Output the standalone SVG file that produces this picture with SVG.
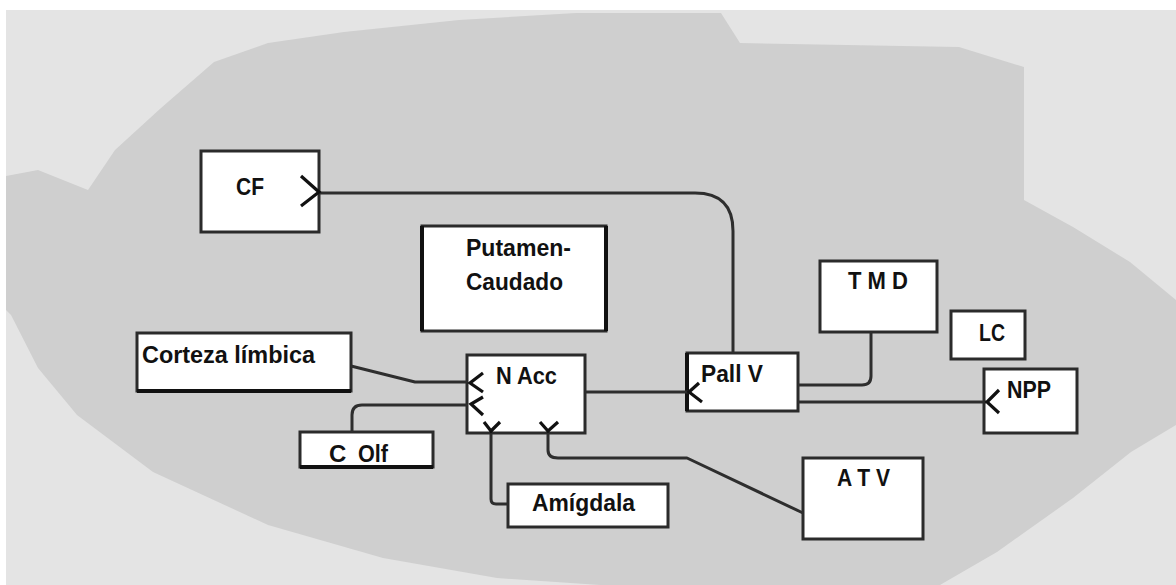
<svg xmlns="http://www.w3.org/2000/svg" width="1176" height="585" viewBox="0 0 1176 585">
<defs>
<style>
.box{fill:#ffffff;stroke:#2b2b2b;stroke-width:3}
.edge{fill:none;stroke:#2e2e2e;stroke-width:3;stroke-linejoin:round}
.chev{fill:none;stroke:#111;stroke-width:3.2;stroke-linecap:butt;stroke-linejoin:miter}
.thick{stroke:#111;stroke-width:4}
.lbl{font-family:"Liberation Sans",Arial,sans-serif;font-weight:bold;font-size:24px;fill:#111}
</style>
</defs>
<rect x="0" y="0" width="1176" height="585" fill="#ffffff"/>
<rect x="6" y="10" width="1170" height="575" fill="#e4e4e4"/>
<path id="brain" fill="#cfcfcf" d="M6,176 L38,170 L88,190 L115,150 L161,108 L214,62 L268,43 L344,32 L459,20 L576,13 L721,13 L740,43 L959,47 L1024,67 L1024,200 L1073,227 L1130,262 L1176,300 L1176,425 L1131,452 L1073,498 L997,552 L940,585 L600,585 L497,578 L383,558 L268,525 L153,472 L77,415 L38,368 L11,315 L6,310 Z"/>
<g id="node-cf"><rect class="box" x="201" y="151" width="118" height="81"/><text class="lbl" x="236" y="195" textLength="28" lengthAdjust="spacingAndGlyphs">CF</text></g>
<g id="node-putamen"><rect class="box" x="422" y="226" width="184" height="105"/><line class="thick" x1="606" y1="226" x2="606" y2="331"/><line class="thick" x1="422" y1="226" x2="422" y2="331"/><text class="lbl" x="466" y="256" textLength="105" lengthAdjust="spacingAndGlyphs">Putamen-</text><text class="lbl" x="466" y="290" textLength="97" lengthAdjust="spacingAndGlyphs">Caudado</text></g>
<g id="node-corteza"><rect class="box" x="137" y="333" width="214" height="58"/><line class="thick" x1="137" y1="391" x2="351" y2="391"/><text class="lbl" x="142" y="363" textLength="173" lengthAdjust="spacingAndGlyphs">Corteza límbica</text></g>
<g id="node-nacc"><rect class="box" x="467" y="355" width="118" height="78"/><text class="lbl" x="496" y="384" textLength="61" lengthAdjust="spacingAndGlyphs">N Acc</text></g>
<g id="node-pallv"><rect class="box" x="687" y="353" width="111" height="58"/><line class="thick" x1="687" y1="353" x2="687" y2="411"/><text class="lbl" x="701" y="382" textLength="62" lengthAdjust="spacingAndGlyphs">Pall V</text></g>
<g id="node-tmd"><rect class="box" x="820" y="261" width="117" height="71"/><text class="lbl" x="848" y="289" textLength="60" lengthAdjust="spacingAndGlyphs">T M D</text></g>
<g id="node-lc"><rect class="box" x="951" y="311" width="74" height="48"/><text class="lbl" x="979" y="341" textLength="26" lengthAdjust="spacingAndGlyphs">LC</text></g>
<g id="node-npp"><rect class="box" x="984" y="369" width="93" height="64"/><text class="lbl" x="1007" y="398" textLength="44" lengthAdjust="spacingAndGlyphs">NPP</text></g>
<g id="node-atv"><rect class="box" x="803" y="458" width="120" height="81"/><text class="lbl" x="837" y="486" textLength="53" lengthAdjust="spacingAndGlyphs">A T V</text></g>
<g id="node-amigdala"><rect class="box" x="508" y="484" width="160" height="43"/><text class="lbl" x="532" y="511" textLength="103" lengthAdjust="spacingAndGlyphs">Amígdala</text></g>
<g id="node-colf"><rect class="box" x="300" y="432" width="133" height="35"/><line class="thick" x1="300" y1="467" x2="433" y2="467"/><text class="lbl" y="462"><tspan x="329">C</tspan><tspan x="358" textLength="30" lengthAdjust="spacingAndGlyphs">Olf</tspan></text></g>
<g id="connectors">
<path class="edge" d="M319,193 H695 Q733,193 733,231 V353"/>
<path class="edge" d="M351,366 L415,382 H468"/>
<path class="edge" d="M352,432 V415 Q352,405 362,405 H468"/>
<path class="edge" d="M491,431 V499 Q491,504 496,504 H508"/>
<path class="edge" d="M548,431 V450 Q548,458 558,458 H687 L803,513"/>
<path class="edge" d="M585,392 H689"/>
<path class="edge" d="M798,385 H862 Q871,385 871,376 V332"/>
<path class="edge" d="M798,402 H986"/>
<path class="chev" d="M301,176 L319,192 L301,206"/>
<path class="chev" d="M483,373 L470,383 L483,392"/>
<path class="chev" d="M483,397 L471,404 L483,415"/>
<path class="chev" d="M484,422 L491,431 L500,422"/>
<path class="chev" d="M540,422 L548,431 L558,422"/>
<path class="chev" d="M699,383 L689,392 L702,402"/>
<path class="chev" d="M999,390 L987,402 L999,413"/>
</g>
</svg>
